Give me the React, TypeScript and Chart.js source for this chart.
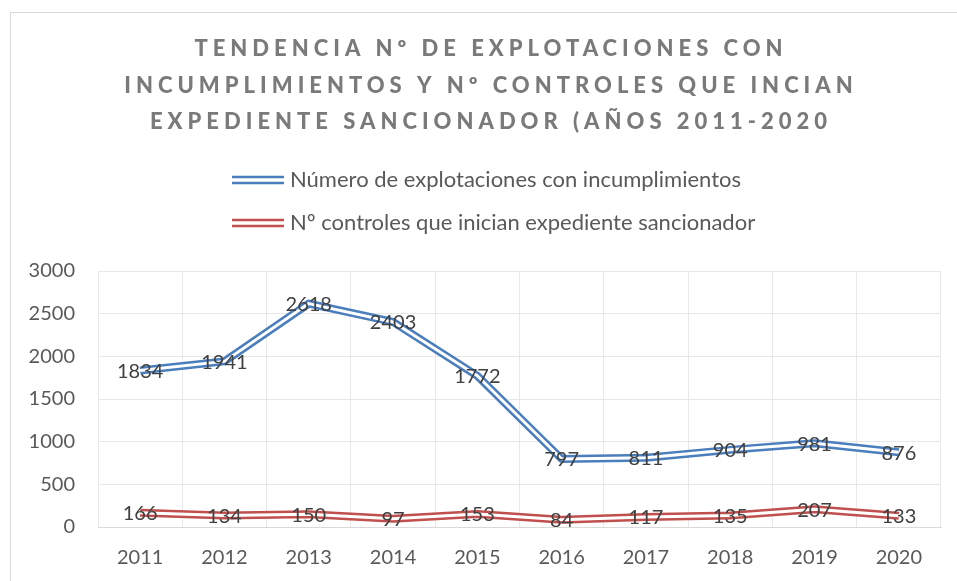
import { useEffect, useRef } from "react";
import { Chart, registerables } from "chart.js";

Chart.register(...registerables);

const years = ["2011", "2012", "2013", "2014", "2015", "2016", "2017", "2018", "2019", "2020"];
const explotaciones = [1834, 1941, 2618, 2403, 1772, 797, 811, 904, 981, 876];
const controles = [166, 134, 150, 97, 153, 84, 117, 135, 207, 133];
const seriesNames = [
  "Número de explotaciones con incumplimientos",
  "Nº controles que inician expediente sancionador",
];
const titleLines = [
  "TENDENCIA Nº DE EXPLOTACIONES CON",
  "INCUMPLIMIENTOS Y Nº CONTROLES QUE INCIAN",
  "EXPEDIENTE SANCIONADOR (AÑOS 2011-2020",
];
const yMin = 0;
const yMax = 3000;
const yStep = 500;

const BLUE = "#4a7ebd";
const RED = "#c0504d";
const FONT = "Lato";

const decor = {
  id: "decor",
  beforeDraw(chart: any) {
    const ctx = chart.ctx as CanvasRenderingContext2D;
    ctx.save();
    ctx.fillStyle = "#ffffff";
    ctx.fillRect(0, 0, chart.width, chart.height);
    ctx.strokeStyle = "#d9d9d9";
    ctx.lineWidth = 1;
    ctx.strokeRect(10.5, 12.5, 1200, 1200);

    // title
    ctx.fillStyle = "#7a7a7a";
    ctx.font = `900 22px ${FONT}`;
    (ctx as any).letterSpacing = "5px";
    ctx.textAlign = "center";
    ctx.textBaseline = "middle";
    const ty = [49, 86, 122];
    titleLines.forEach((t, i) => ctx.fillText(t, 491, ty[i]));
    (ctx as any).letterSpacing = "0px";

    // legend
    ctx.font = `22px ${FONT}`;
    ctx.textAlign = "left";
    const colors = [BLUE, RED];
    const ly = [180, 223];
    const maxW = Math.max(...seriesNames.map((s) => ctx.measureText(s).width));
    const mw = 52;
    const gap = 6;
    const x0 = Math.round(494 - (mw + gap + maxW) / 2);
    seriesNames.forEach((s, i) => {
      ctx.strokeStyle = colors[i];
      ctx.lineWidth = 2.5;
      ctx.beginPath();
      ctx.moveTo(x0, ly[i] - 3);
      ctx.lineTo(x0 + mw, ly[i] - 3);
      ctx.moveTo(x0, ly[i] + 3);
      ctx.lineTo(x0 + mw, ly[i] + 3);
      ctx.stroke();
      ctx.fillStyle = "#595959";
      ctx.fillText(s, x0 + mw + gap, ly[i]);
    });
    ctx.restore();
  },
  afterDatasetsDraw(chart: any) {
    const ctx = chart.ctx as CanvasRenderingContext2D;
    ctx.save();
    chart.data.datasets.forEach((ds: any, i: number) => {
      const meta = chart.getDatasetMeta(i);
      ctx.strokeStyle = "#ffffff";
      ctx.lineWidth = 3;
      ctx.lineJoin = "round";
      ctx.lineCap = "butt";
      ctx.beginPath();
      meta.data.forEach((p: any, j: number) => {
        if (j === 0) ctx.moveTo(p.x, p.y);
        else ctx.lineTo(p.x, p.y);
      });
      ctx.stroke();
    });
    ctx.font = `20px ${FONT}`;
    ctx.fillStyle = "#404040";
    ctx.textAlign = "center";
    ctx.textBaseline = "middle";
    chart.data.datasets.forEach((ds: any, i: number) => {
      const meta = chart.getDatasetMeta(i);
      meta.data.forEach((p: any, j: number) => {
        ctx.fillText(String(ds.data[j]), p.x, p.y + 1);
      });
    });
    ctx.restore();
  },
};

export default function App() {
  const ref = useRef<HTMLCanvasElement | null>(null);
  useEffect(() => {
    if (!ref.current) return;
    const chart = new Chart(ref.current, {
      type: "line",
      data: {
        labels: years,
        datasets: [
          {
            label: seriesNames[0],
            data: explotaciones,
            borderColor: BLUE,
            borderWidth: 8,
            borderJoinStyle: "round",
            pointRadius: 0,
            fill: false,
            tension: 0,
          },
          {
            label: seriesNames[1],
            data: controles,
            borderColor: RED,
            borderWidth: 8,
            borderJoinStyle: "round",
            pointRadius: 0,
            fill: false,
            tension: 0,
          },
        ],
      },
      options: {
        animation: false,
        responsive: false,
        layout: { padding: { top: 271, right: 16, left: 0, bottom: 0 } },
        plugins: {
          legend: { display: false },
          title: { display: false },
          tooltip: { enabled: false },
        },
        scales: {
          x: {
            offset: true,
            grid: { offset: true, color: "#e8e8e8", drawTicks: false },
            border: { color: "#d9d9d9" },
            ticks: { color: "#595959", font: { family: FONT, size: 20 }, padding: 19 },
            afterFit: (s: any) => {
              s.height = 54;
            },
          },
          y: {
            min: yMin,
            max: yMax,
            grid: { color: "#e8e8e8", drawTicks: false },
            border: { display: false },
            ticks: {
              stepSize: yStep,
              color: "#595959",
              font: { family: FONT, size: 20 },
              padding: 23,
              callback: (v: any) => String(v),
            },
            afterFit: (s: any) => {
              s.width = 98;
            },
          },
        },
      },
      plugins: [decor],
    });
    return () => chart.destroy();
  }, []);
  return (
    <div style={{ position: "fixed", left: 0, top: 0, width: 957, height: 581, background: "#fff" }}>
      <canvas ref={ref} width={957} height={581} style={{ display: "block" }} />
    </div>
  );
}
